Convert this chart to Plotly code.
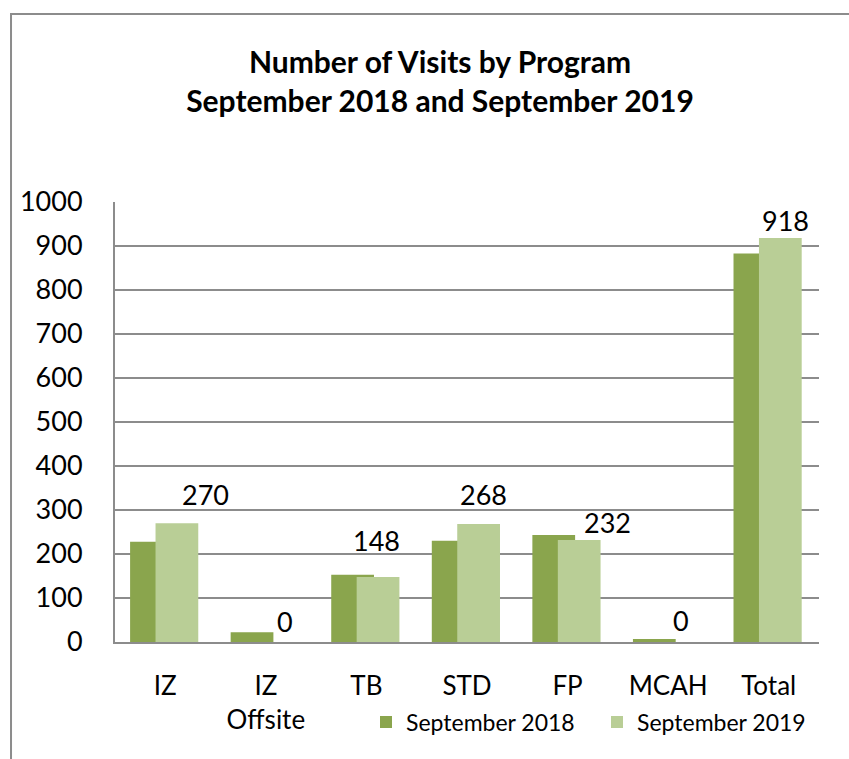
import plotly.graph_objects as go

categories = ["IZ", "IZ<br>Offsite", "TB", "STD", "FP", "MCAH", "Total"]
sep_2018 = [228, 22, 153, 230, 243, 7, 883]
sep_2019 = [270, 0, 148, 268, 232, 0, 918]
y_ticks = list(range(0, 1001, 100))

# label placement tweaks (pixels) for the 2019 data labels
label_xshift = [40, 19, 10, 16, 40, 13, 17]
label_yshift = [29, 21, 36, 30, 17, 22, 18]

FONT = "Lato"
c2018 = "#8aa54d"
c2019 = "#b9ce96"
grid = "#8c8c8c"

fig = go.Figure()
fig.add_trace(go.Bar(x=categories, y=sep_2018, name="September 2018",
                     marker=dict(color=c2018, line=dict(width=0)),
                     width=0.425, offset=-0.35))
fig.add_trace(go.Bar(x=categories, y=sep_2019, name="September 2019",
                     marker=dict(color=c2019, line=dict(width=0)),
                     width=0.425, offset=-0.097))

for cat, v, dx, dy in zip(categories, sep_2019, label_xshift, label_yshift):
    fig.add_annotation(x=cat, y=v, text=str(v), showarrow=False,
                       xanchor="center", yanchor="middle",
                       xshift=dx, yshift=dy,
                       font=dict(family=FONT, size=27, color="black"))

# outer chart border (extends beyond the visible picture on right/bottom)
fig.add_shape(type="rect", xref="paper", yref="paper",
              x0=-0.1477, x1=1.2, y0=-0.5, y1=1.427,
              line=dict(color="#8c8c8c", width=2), fillcolor="rgba(0,0,0,0)",
              layer="below")

fig.update_layout(
    template="none",
    width=849, height=759,
    margin=dict(l=115, r=30, t=202, b=117, autoexpand=False),
    paper_bgcolor="white", plot_bgcolor="white",
    barmode="overlay",
    font=dict(family=FONT, color="black"),
    title=dict(
        text="<b>Number of Visits by Program</b><br><b>September 2018 and September 2019</b>",
        x=440 / 849, xanchor="center", xref="container",
        y=1 - 73 / 759, yanchor="top", yref="container",
        font=dict(family=FONT, size=30, color="black"),
    ),
    xaxis=dict(showline=True, linecolor=grid, linewidth=2, showgrid=False,
               ticks="", tickfont=dict(family=FONT, size=26, color="black"),
               ticklabelstandoff=20, automargin=False),
    yaxis=dict(range=[0, 1000], tickvals=y_ticks, showline=True, linecolor=grid,
               linewidth=2, showgrid=True, gridcolor=grid, gridwidth=1.5,
               zeroline=False, ticks="", ticklabelstandoff=25, automargin=False,
               tickfont=dict(family=FONT, size=27, color="black")),
    legend=dict(orientation="h", x=(366 - 115) / 704, xanchor="left",
                y=(642 - 722) / 440, yanchor="middle",
                font=dict(family=FONT, size=23, color="black"),
                entrywidth=186, entrywidthmode="pixels",
                bgcolor="rgba(0,0,0,0)", borderwidth=0),
    showlegend=True,
)

fig.write_html(
    "out.html",
    config={"displayModeBar": False},
    post_script="document.body.style.margin='0';document.body.style.overflow='hidden';",
)
